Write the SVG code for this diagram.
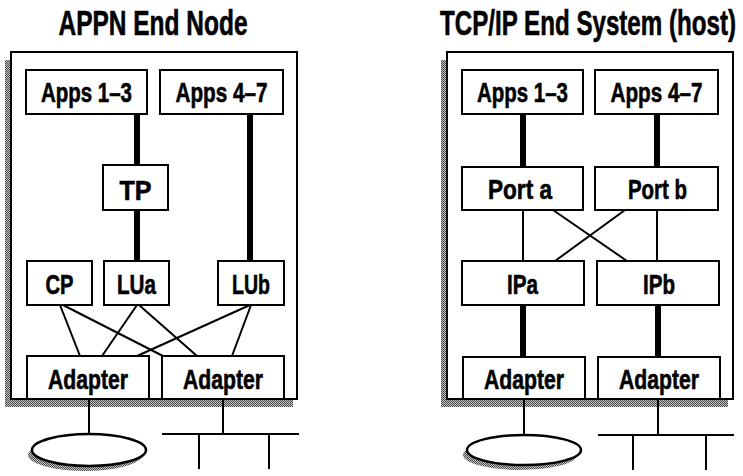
<svg xmlns="http://www.w3.org/2000/svg" width="743" height="476" viewBox="0 0 743 476">
<style>
.bg{fill:#fff}
.shadow{fill:url(#dither)}
.frame{fill:#fff;stroke:#000;stroke-width:2}
.box{fill:#fff;stroke:#000;stroke-width:2}
.lbl{font-family:"Liberation Sans",Arial,sans-serif;font-weight:bold;font-size:28px;fill:#000;stroke:#000;stroke-width:0.6;text-anchor:middle}
.title{font-family:"Liberation Sans",Arial,sans-serif;font-weight:bold;font-size:35px;fill:#000;stroke:#000;stroke-width:0.6;text-anchor:middle}
.thick{stroke:#000;stroke-width:6;fill:none}
.thin{stroke:#000;stroke-width:2;fill:none}
.net{fill:#fff;stroke:#000;stroke-width:2.5}
</style>
<defs>
<pattern id="dither" width="2" height="2" patternUnits="userSpaceOnUse">
<rect width="2" height="2" fill="#c4c4c4"/>
<rect width="1" height="1" fill="#4a4a4a"/>
<rect x="1" y="1" width="1" height="1" fill="#4a4a4a"/>
</pattern>
</defs>
<rect class="bg" width="743" height="476"/>

<g id="appn">
<text class="title" transform="translate(153,35) scale(0.7,1)">APPN End Node</text>
<rect class="shadow" x="5" y="60" width="288" height="347"/>
<rect class="frame" x="11" y="52" width="286" height="347"/>
</g>
<g id="tcpip">
<text class="title" transform="translate(588,35) scale(0.69,1)">TCP/IP End System (host)</text>
<rect class="shadow" x="441" y="60" width="287" height="347"/>
<rect class="frame" x="447" y="52" width="286" height="347"/>
</g>

<g id="connectors">
<line class="thick" x1="137" y1="114" x2="137" y2="165"/>
<line class="thick" x1="137" y1="210" x2="137" y2="261"/>
<line class="thick" x1="250" y1="114" x2="250" y2="261"/>
<line class="thin" x1="60" y1="305" x2="80" y2="356"/>
<line class="thin" x1="63" y1="305" x2="163" y2="356"/>
<line class="thin" x1="137" y1="305" x2="102" y2="356"/>
<line class="thin" x1="139" y1="305" x2="197" y2="356"/>
<line class="thin" x1="250" y1="305" x2="137" y2="356"/>
<line class="thin" x1="251" y1="305" x2="232" y2="356"/>
<line class="thin" x1="89" y1="399" x2="89" y2="434"/>
<line class="thin" x1="223" y1="399" x2="223" y2="434"/>
<line class="thin" x1="162" y1="434" x2="299" y2="434"/>
<line class="thin" x1="199" y1="434" x2="199" y2="469"/>
<line class="thin" x1="269" y1="434" x2="269" y2="469"/>

<line class="thick" x1="523" y1="114" x2="523" y2="167"/>
<line class="thick" x1="657" y1="114" x2="657" y2="167"/>
<line class="thin" x1="523" y1="210" x2="523" y2="261"/>
<line class="thin" x1="657" y1="210" x2="657" y2="261"/>
<line class="thin" x1="553" y1="210" x2="627" y2="261"/>
<line class="thin" x1="625" y1="210" x2="555" y2="261"/>
<line class="thick" x1="523" y1="305" x2="523" y2="357"/>
<line class="thick" x1="658" y1="305" x2="658" y2="357"/>
<line class="thin" x1="524" y1="399" x2="524" y2="435"/>
<line class="thin" x1="658" y1="399" x2="658" y2="435"/>
<line class="thin" x1="598" y1="435" x2="734" y2="435"/>
<line class="thin" x1="633" y1="435" x2="633" y2="470"/>
<line class="thin" x1="706" y1="435" x2="706" y2="470"/>
</g>

<g id="a-apps13"><rect class="box" x="26" y="70" width="121" height="44"/><text class="lbl" x="86.5" y="102" textLength="91" lengthAdjust="spacingAndGlyphs">Apps 1–3</text></g>
<g id="a-apps47"><rect class="box" x="160" y="70" width="123" height="44"/><text class="lbl" x="221.5" y="102" textLength="92" lengthAdjust="spacingAndGlyphs">Apps 4–7</text></g>
<g id="a-tp"><rect class="box" x="103" y="165" width="65" height="45"/><text class="lbl" x="135.5" y="200" textLength="32" lengthAdjust="spacingAndGlyphs">TP</text></g>
<g id="a-cp"><rect class="box" x="27" y="261" width="65" height="44"/><text class="lbl" x="59.5" y="294" textLength="28" lengthAdjust="spacingAndGlyphs">CP</text></g>
<g id="a-lua"><rect class="box" x="104" y="261" width="65" height="44"/><text class="lbl" x="136.5" y="294" textLength="39" lengthAdjust="spacingAndGlyphs">LUa</text></g>
<g id="a-lub"><rect class="box" x="218" y="261" width="66" height="44"/><text class="lbl" x="251" y="294" textLength="38" lengthAdjust="spacingAndGlyphs">LUb</text></g>
<g id="a-adapter1"><rect class="box" x="27" y="356" width="122" height="43"/><text class="lbl" x="88" y="389" textLength="80" lengthAdjust="spacingAndGlyphs">Adapter</text></g>
<g id="a-adapter2"><rect class="box" x="162" y="356" width="122" height="43"/><text class="lbl" x="223" y="389" textLength="80" lengthAdjust="spacingAndGlyphs">Adapter</text></g>
<g id="a-ring"><ellipse class="shadow" cx="85" cy="455" rx="57" ry="16"/><ellipse class="net" cx="89" cy="450" rx="57" ry="16"/></g>

<g id="t-apps13"><rect class="box" x="462" y="70" width="121" height="44"/><text class="lbl" x="522.5" y="102" textLength="91" lengthAdjust="spacingAndGlyphs">Apps 1–3</text></g>
<g id="t-apps47"><rect class="box" x="595" y="70" width="123" height="44"/><text class="lbl" x="656.5" y="102" textLength="92" lengthAdjust="spacingAndGlyphs">Apps 4–7</text></g>
<g id="t-porta"><rect class="box" x="462" y="167" width="121" height="43"/><text class="lbl" x="520" y="199" textLength="64" lengthAdjust="spacingAndGlyphs">Port a</text></g>
<g id="t-portb"><rect class="box" x="595" y="167" width="123" height="43"/><text class="lbl" x="657.5" y="199" textLength="59" lengthAdjust="spacingAndGlyphs">Port b</text></g>
<g id="t-ipa"><rect class="box" x="462" y="261" width="122" height="44"/><text class="lbl" x="522.5" y="294" textLength="31" lengthAdjust="spacingAndGlyphs">IPa</text></g>
<g id="t-ipb"><rect class="box" x="597" y="261" width="122" height="44"/><text class="lbl" x="659" y="294" textLength="32" lengthAdjust="spacingAndGlyphs">IPb</text></g>
<g id="t-adapter1"><rect class="box" x="463" y="357" width="122" height="42"/><text class="lbl" x="524" y="389" textLength="80" lengthAdjust="spacingAndGlyphs">Adapter</text></g>
<g id="t-adapter2"><rect class="box" x="598" y="357" width="122" height="42"/><text class="lbl" x="659" y="389" textLength="80" lengthAdjust="spacingAndGlyphs">Adapter</text></g>
<g id="t-ring"><ellipse class="shadow" cx="520" cy="455" rx="57" ry="15"/><ellipse class="net" cx="524" cy="450" rx="57" ry="15"/></g>
</svg>
